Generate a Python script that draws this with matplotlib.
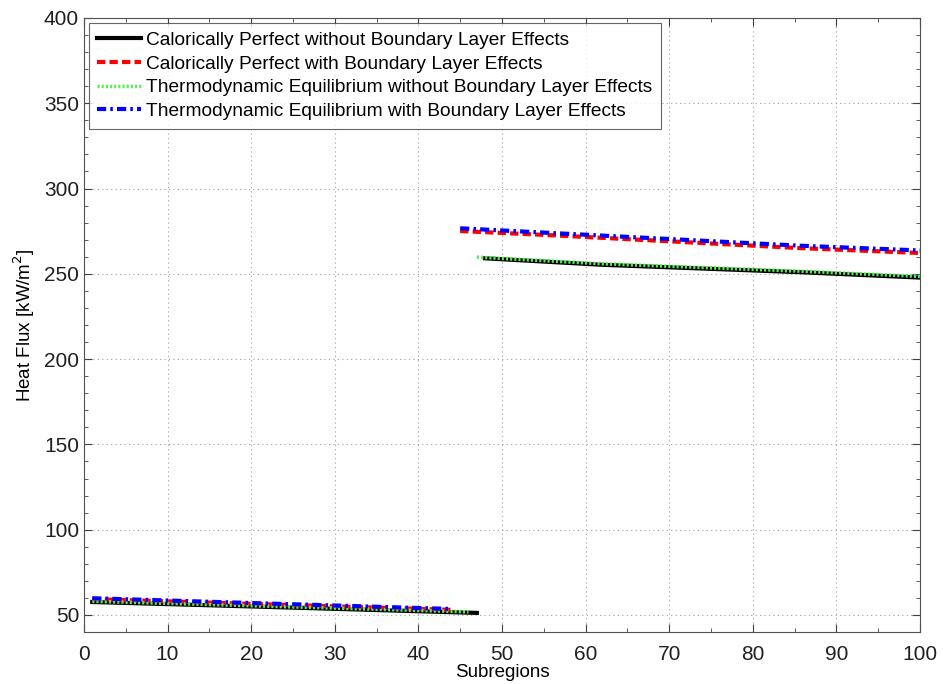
import numpy as np
import matplotlib.pyplot as plt
from matplotlib.ticker import MultipleLocator

plt.rcParams['font.family'] = ['Liberation Sans', 'DejaVu Sans']

# --- DATA ---
# each series: lower segment, NaN gap, upper segment
x_cp_nobl = [1, 20, 47, np.nan, 48, 62, 86, 100]
y_cp_nobl = [57.6, 55.0, 51.2, np.nan, 259.1, 255.3, 250.9, 247.8]

x_cp_bl = [1, 20, 44, np.nan, 45, 56.5, 85.6, 100]
y_cp_bl = [59.3, 56.5, 53.0, np.nan, 275.1, 272.5, 265.1, 262.2]

x_te_nobl = [1, 20, 46, np.nan, 47, 62, 86, 100]
y_te_nobl = [58.0, 55.4, 51.8, np.nan, 259.8, 255.9, 251.5, 248.5]

x_te_bl = [1, 20, 44, np.nan, 45, 56.5, 85.6, 100]
y_te_bl = [59.8, 57.0, 53.5, np.nan, 276.7, 273.8, 266.5, 263.7]

labels = ["Calorically Perfect without Boundary Layer Effects",
          "Calorically Perfect with Boundary Layer Effects",
          "Thermodynamic Equilibrium without Boundary Layer Effects",
          "Thermodynamic Equilibrium with Boundary Layer Effects"]

# --- PLOTTING ---
fig = plt.figure(figsize=(9.43, 6.84), dpi=100)
ax = fig.add_axes([0.089, 0.076, 0.8866, 0.8977])

ax.plot(x_cp_nobl, y_cp_nobl, color='black', lw=3, ls='-', label=labels[0])
ax.plot(x_cp_bl, y_cp_bl, color='red', lw=3, ls=(0, (2, 1)), label=labels[1])
ax.plot(x_te_nobl, y_te_nobl, color='#55ee55', lw=2.5, ls=(0, (0.6, 0.6)), label=labels[2])
ax.plot(x_te_bl, y_te_bl, color='blue', lw=3, ls=(0, (2.2, 1, 0.6, 1)), label=labels[3])

ax.set_xlim(0, 100)
ax.set_ylim(40, 400)
ax.xaxis.set_major_locator(MultipleLocator(10))
ax.xaxis.set_minor_locator(MultipleLocator(5))
ax.yaxis.set_major_locator(MultipleLocator(50))
ax.yaxis.set_minor_locator(MultipleLocator(10))
ax.set_yticks(np.arange(50, 401, 50))

ax.tick_params(which='both', direction='in', top=True, right=True, colors='#404040',
               labelcolor='#202020')
ax.tick_params(which='major', length=6, labelsize=15)
ax.tick_params(which='minor', length=3)
ax.tick_params(axis='x', which='major', pad=9)
for s in ax.spines.values():
    s.set_color('#505050')

ax.grid(True, which='major', ls=(0, (1, 3)), color='#a0a0a0', lw=0.8)

ax.set_xlabel("Subregions", fontsize=13.5, labelpad=0)
ax.set_ylabel("Heat Flux [kW/m$^2$]", fontsize=13.5, labelpad=5)

leg = ax.legend(loc='upper left', fontsize=13.8, frameon=True, fancybox=False,
                handlelength=2.3, borderaxespad=0.25, labelspacing=0.33,
                handletextpad=0.25, borderpad=0.45)
leg.get_frame().set_edgecolor('#404040')
leg.get_frame().set_linewidth(0.8)

plt.savefig("out.png", dpi=100)
